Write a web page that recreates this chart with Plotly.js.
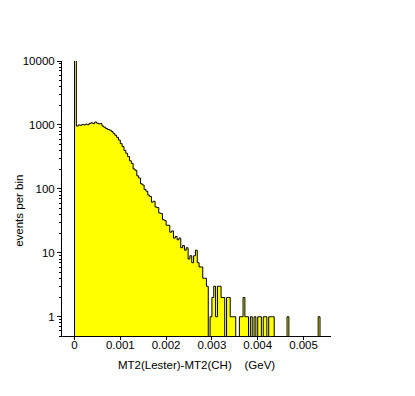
<!DOCTYPE html>
<html>
<head>
<meta charset="utf-8">
<script src="https://cdn.plot.ly/plotly-3.0.1.min.js"></script>
<style>
  html, body { margin: 0; padding: 0; background: #fff; }
  #plot { width: 415px; height: 396px; }
</style>
</head>
<body>
<div id="plot"></div>
<script>
// histogram: MT2(Lester)-MT2(CH), bin width in GeV
const binWidth = 0.00004;
const counts = [
    11000,                                                                              // 0
    960, 1000, 990, 1020, 1000, 1030, 1010, 1060, 1080, 1050, 1110, 1070, 1040, 1050,   // 1-14
    960, 920, 880, 850, 830, 790, 740, 690, 640, 580,       // 15-24
    510, 460, 400, 360, 320, 275, 250, 205, 195, 160,       // 25-34
    148, 120, 115, 98, 92, 80, 76, 62, 64, 52,              // 35-44
    51, 42, 41, 33, 32, 27, 27, 21, 22, 17,                 // 45-54
    18, 16, 17, 12, 13, 11, 12, 8, 9, 7,                    // 55-64
    9, 11, 7, 6, 6, 4, 4, 3, 0, 1,                          // 65-74
    2, 3, 1, 3, 3, 2, 2, 0, 2, 2,                           // 75-84
    1, 1, 1, 0, 0, 1, 1, 2, 1, 1,                           // 85-94
    0, 1, 0, 1, 0, 1, 1, 0, 1, 1,                           // 95-104
    0, 1, 1, 1, 0, 0, 0, 0, 0, 0,                           // 105-114
    0, 1, 0, 0, 0, 0, 0, 0, 0, 0,                           // 115-124
    0, 0, 0, 0, 0, 0, 0, 0, 1                               // 125-133
];
const yTickVals = [1, 10, 100, 1000, 10000];
const yTickText = ['1', '10', '100', '1000', '10000'];
const xTickVals = [0, 0.001, 0.002, 0.003, 0.004, 0.005];
const xTickText = ['0', '0.001', '0.002', '0.003', '0.004', '0.005'];

const floorVal = 0.1; // empty bins drawn below the axis bottom
let xs = [0];
let ys = [floorVal];
for (let i = 0; i < counts.length; ++i) {
    xs.push(i * binWidth);
    ys.push(counts[i] > 0 ? counts[i] : floorVal);
}
xs.push(counts.length * binWidth);
ys.push(floorVal);

const font = 'Liberation Sans, Arial, sans-serif';

const data = [{
    x: xs,
    y: ys,
    mode: 'lines',
    line: { shape: 'hv', color: '#000000', width: 1 },
    fill: 'tozeroy',
    fillcolor: '#ffff00',
    hoverinfo: 'skip',
}];

const layout = {
    width: 415,
    height: 396,
    margin: { l: 62, r: 84, t: 61, b: 60, pad: 0 },
    paper_bgcolor: '#ffffff',
    plot_bgcolor: '#ffffff',
    showlegend: false,
    font: { family: font, size: 11.5, color: '#000' },
    xaxis: {
        range: [-0.000273, 0.0056],
        tickvals: xTickVals,
        ticktext: xTickText,
        ticks: 'outside',
        ticklen: 3,
        tickcolor: '#000',
        ticklabelstandoff: -5,
        showgrid: false,
        zeroline: false,
        showline: true,
        linecolor: '#000',
        linewidth: 1,
        tickfont: { family: font, size: 11.5, color: '#000' },
    },
    yaxis: {
        type: 'log',
        range: [-0.301, 4.0],
        tickvals: yTickVals,
        ticktext: yTickText,
        ticks: 'outside',
        ticklen: 4,
        tickcolor: '#000',
        minor: { ticks: 'outside', ticklen: 2, tickcolor: '#000', dtick: 'D1', showgrid: false },
        showgrid: false,
        zeroline: false,
        showline: true,
        linecolor: '#000',
        linewidth: 1,
        tickfont: { family: font, size: 11.5, color: '#000' },
    },
    annotations: [{
        text: 'MT2(Lester)-MT2(CH)\u00a0\u00a0\u00a0\u00a0(GeV)',
        xref: 'paper', yref: 'paper',
        x: 0.5, y: -0.105,
        xanchor: 'center', yanchor: 'middle',
        showarrow: false,
        font: { family: font, size: 11.5, color: '#000' },
    }, {
        text: 'events per bin',
        xref: 'paper', yref: 'paper',
        x: -0.16, y: 0.455,
        xanchor: 'center', yanchor: 'middle',
        textangle: -90,
        showarrow: false,
        font: { family: font, size: 11.5, color: '#000' },
    }],
};

Plotly.newPlot('plot', data, layout, { staticPlot: true });
</script>
</body>
</html>
